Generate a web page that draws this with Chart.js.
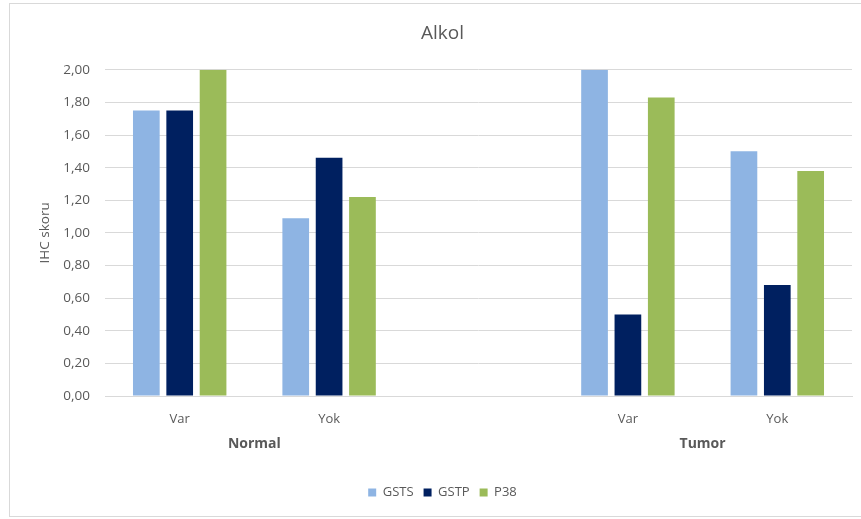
<!DOCTYPE html>
<html>
<head>
<meta charset="utf-8">
<script src="https://cdn.jsdelivr.net/npm/chart.js@4/dist/chart.umd.min.js"></script>
<style>
  html, body { margin: 0; padding: 0; background: #ffffff; }
  #wrap { position: relative; width: 861px; height: 519px; overflow: hidden; }
  #frame { position: absolute; left: 9px; top: 3px; width: 900px; height: 514px;
           border: 1px solid #d9d9d9; box-sizing: border-box; }
  canvas { position: absolute; left: 0; top: 0; }
</style>
</head>
<body>
<div id="wrap">
  <div id="frame"></div>
  <canvas id="c" width="861" height="519"></canvas>
</div>
<script>
// Category rows: sub-labels (an empty slot separates the two groups)
const categories = ['Var', 'Yok', '', 'Var', 'Yok'];
// Outer group labels and the category indices they span
const groupNames = ['Normal', 'Tumor'];
const groupSpans = [[0, 1], [3, 4]];

const seriesNames = ['GSTS', 'GSTP', 'P38'];
const gstsValues = [1.75, 1.09, null, 2.00, 1.50];
const gstpValues = [1.75, 1.46, null, 0.50, 0.68];
const p38Values  = [2.00, 1.22, null, 1.83, 1.38];
const seriesColors = ['#8EB4E3', '#002060', '#9BBB59'];

const chartTitle = 'Alkol';
const yTitle = 'IHC skoru';
const yMin = 0, yMax = 2, yStep = 0.2;

const FONT = "'Open Sans', 'Noto Sans', sans-serif";
const TEXT = '#595959';

// Draws the outer (group) row of the category axis
const groupLabels = {
  id: 'groupLabels',
  afterDraw(chart) {
    const x = chart.scales.x;
    const ctx = chart.ctx;
    ctx.save();
    ctx.font = 'bold 14px ' + FONT;
    ctx.fillStyle = TEXT;
    ctx.textAlign = 'center';
    ctx.textBaseline = 'middle';
    groupNames.forEach((name, i) => {
      const [a, b] = groupSpans[i];
      const cx = (x.getPixelForValue(a) + x.getPixelForValue(b)) / 2;
      ctx.fillText(name, cx, chart.chartArea.bottom + 48);
    });
    ctx.restore();
  }
};

const values = [gstsValues, gstpValues, p38Values];

new Chart(document.getElementById('c'), {
  type: 'bar',
  data: {
    labels: categories,
    datasets: seriesNames.map((n, i) => ({
      label: n,
      data: values[i],
      backgroundColor: seriesColors[i],
      borderWidth: 0,
      categoryPercentage: 0.67,
      barPercentage: 0.8
    }))
  },
  options: {
    responsive: false,
    animation: false,
    layout: { padding: { left: 33, right: 9, top: 0, bottom: 10 } },
    plugins: {
      title: {
        display: true,
        text: chartTitle,
        color: TEXT,
        font: { family: FONT, size: 19, weight: 'normal' },
        padding: { top: 22, bottom: 25 }
      },
      legend: {
        position: 'bottom',
        labels: {
          color: TEXT,
          font: { family: FONT, size: 13 },
          boxWidth: 8,
          boxHeight: 8,
          padding: 10
        }
      },
      tooltip: { enabled: false }
    },
    scales: {
      x: {
        grid: { display: false },
        border: { display: true, color: '#d9d9d9' },
        ticks: { color: TEXT, font: { family: FONT, size: 13 }, padding: 7, maxRotation: 0, autoSkip: false },
        afterFit(s) { s.height = 80; }
      },
      y: {
        min: yMin,
        max: yMax,
        grid: { color: '#d9d9d9', drawTicks: false },
        border: { display: false },
        ticks: {
          stepSize: yStep,
          color: TEXT,
          padding: 15,
          font: { family: FONT, size: 13.5 },
          callback: v => (Math.round(v * 100) / 100).toFixed(2).replace('.', ',')
        },
        title: {
          display: true,
          text: yTitle,
          color: TEXT,
          font: { family: FONT, size: 13.5 }
        },
        afterFit(s) { s.width = 72; }
      }
    }
  },
  plugins: [groupLabels]
});
</script>
</body>
</html>
